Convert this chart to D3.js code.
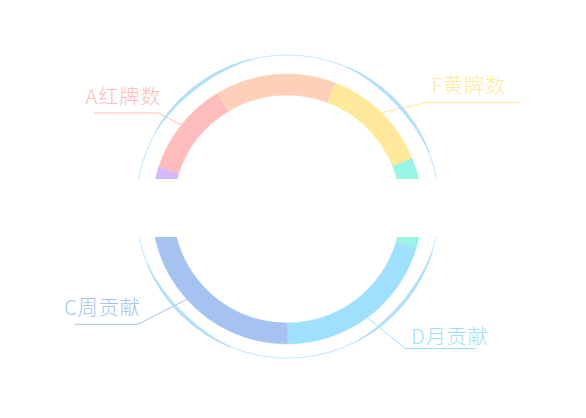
<!DOCTYPE html>
<html><head><meta charset="utf-8">
<script src="https://cdn.jsdelivr.net/npm/d3@7/dist/d3.min.js"></script>
<style>html,body{margin:0;padding:0;background:#fff;}svg{display:block;}</style>
</head><body>
<svg id="chart" width="586" height="418"></svg>
<script>
// ---- data ----
const names  = ["A红牌数", "B", "F黄牌数", "E", "D月贡献", "C周贡献", "G"];
const values = [41, 52, 47, 39, 73, 96, 12];
const colors = ["#ffbcbc", "#ffd0b9", "#ffe99b", "#9bf5e6", "#9ee0fd", "#a5c2f0", "#d5b9fc"];
const labelled = ["A红牌数", "F黄牌数", "D月贡献", "C周贡献"];

// ---- layout ----
const W = 586, H = 418;
const cx = 287, cy = 209;
const rIn = 114, rOut = 135;
const ringCx = 287.5, ringCy = 206.5, ringR = 151.5;
const startDeg = -72;
// label line geometry (elbow offset from anchor, horizontal length, text offsets)
const labelLayout = {
  "A红牌数": {dx: -23, dy: -12, len: 65, tdy: -9},
  "F黄牌数": {dx: 44, dy: -10, len: 95, tdy: -10},
  "C周贡献": {dx: -49, dy: 25, len: 63, tdy: -9},
  "D月贡献": {dx: 38, dy: 31, len: 71, tdy: -5}
};

const svg = d3.select("#chart");
const g = svg.append("g").attr("transform", `translate(${cx},${cy})`);
const rad = d => d * Math.PI / 180;

const data = names.map((n, i) => ({name: n, value: values[i], color: colors[i]}));
const pie = d3.pie().sort(null).value(d => d.value)
  .startAngle(rad(startDeg)).endAngle(rad(startDeg + 360));
const arcs = pie(data);
const arc = d3.arc().innerRadius(rIn).outerRadius(rOut);

// outer thin circle with light crescents
const rg = svg.append("g").attr("transform", `translate(${ringCx},${ringCy})`);
rg.append("circle").attr("r", ringR).attr("fill", "none")
  .attr("stroke", "#cdeafc").attr("stroke-width", 1.2);
const crescentCenters = [-37, 46, 130, 225];
const span = 46;
crescentCenters.forEach(c => {
  const pts = d3.range(0, 1.0001, 0.02);
  const area = d3.areaRadial()
    .angle(u => rad(c - span / 2 + span * u))
    .innerRadius(u => ringR - 0.3 - 2.6 * Math.sin(Math.PI * u))
    .outerRadius(u => ringR + 0.6)
    .curve(d3.curveBasis);
  rg.append("path").attr("d", area(pts)).attr("fill", "#a9dcfa").attr("opacity", 0.85);
});

// ring segments
g.selectAll("path.seg").data(arcs).enter().append("path")
  .attr("class", "seg").attr("d", arc).attr("fill", d => d.data.color)
  .attr("stroke", d => d.data.color).attr("stroke-width", 0.5);

// white band across the middle
svg.append("rect").attr("x", 0).attr("y", 179).attr("width", W).attr("height", 58).attr("fill", "#fff");

// labels
const anchorArc = d3.arc().innerRadius(rOut).outerRadius(rOut);
arcs.filter(d => labelled.includes(d.data.name)).forEach(d => {
  const L = labelLayout[d.data.name];
  const [ax, ay] = anchorArc.centroid(d);
  const ex = ax + L.dx, ey = ay + L.dy;
  const right = ex > 0;
  const hx = right ? ex + L.len : ex - L.len;
  g.append("polyline")
    .attr("points", `${ax},${ay} ${ex},${ey} ${hx},${ey}`)
    .attr("fill", "none").attr("stroke", d.data.color).attr("stroke-width", 1);
  g.append("text")
    .attr("x", right ? ex + 6 : ex + 3)
    .attr("y", ey + L.tdy)
    .attr("text-anchor", right ? "start" : "end")
    .attr("font-family", "'Noto Sans CJK SC', 'Noto Sans', sans-serif")
    .attr("font-weight", 300)
    .attr("font-size", 20)
    .attr("letter-spacing", 1)
    .attr("fill", d.data.color)
    .text(d.data.name);
});
</script>
</body></html>
